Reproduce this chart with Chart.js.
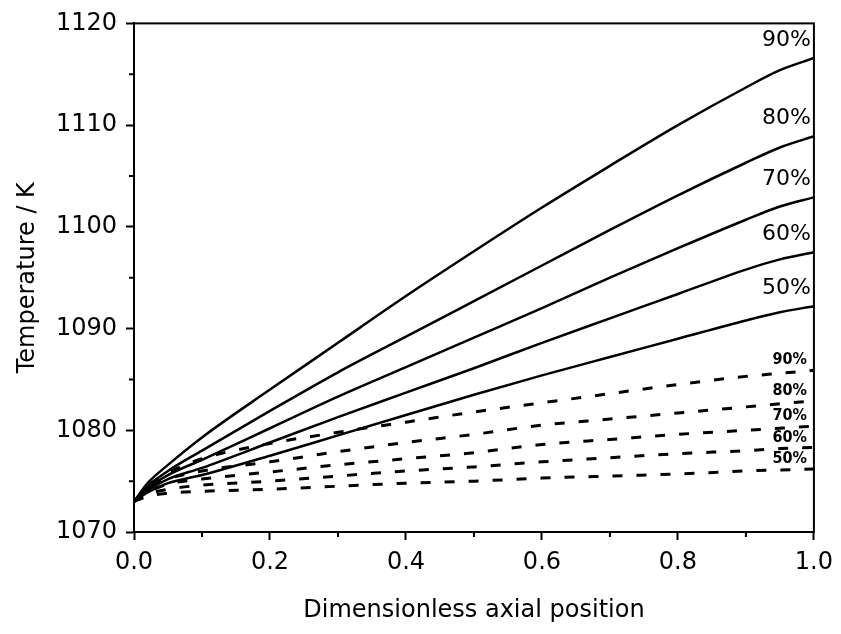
<!DOCTYPE html>
<html>
<head>
<meta charset="utf-8">
<script src="https://cdn.jsdelivr.net/npm/chart.js@4"></script>
<style>
  html, body { margin: 0; padding: 0; background: #fff; }
  #wrap { width: 841px; height: 634px; }
</style>
</head>
<body>
<div id="wrap"><canvas id="tempProfile"></canvas></div>
<script>
// Axial positions (dimensionless)
var positions = [0, 0.02, 0.05, 0.1, 0.2, 0.3, 0.4, 0.5, 0.6, 0.7, 0.8, 0.9, 0.95, 1.0]
var curveNames = ['90%', '80%', '70%', '60%', '50%']

// Solid curves (K)
var solid90 = [1073.0, 1074.8, 1076.6, 1079.3, 1084.0, 1088.6, 1093.2, 1097.6, 1101.9, 1106.0, 1110.0, 1113.7, 1115.4, 1116.6]
var solid80 = [1073.0, 1074.5, 1076.0, 1078.0, 1081.9, 1085.7, 1089.2, 1092.7, 1096.2, 1099.7, 1103.1, 1106.3, 1107.8, 1108.9]
var solid70 = [1073.0, 1074.3, 1075.6, 1077.1, 1080.2, 1083.3, 1086.2, 1089.1, 1092.0, 1095.0, 1097.9, 1100.7, 1102.0, 1102.9]
var solid60 = [1073.0, 1074.1, 1075.2, 1076.3, 1078.8, 1081.3, 1083.7, 1086.1, 1088.6, 1091.0, 1093.4, 1095.8, 1096.8, 1097.5]
var solid50 = [1073.0, 1073.9, 1074.8, 1075.6, 1077.5, 1079.5, 1081.5, 1083.5, 1085.4, 1087.2, 1089.0, 1090.8, 1091.6, 1092.2]

// Dashed curves (K)
var dashed90 = [1073.0, 1074.5, 1075.8, 1077.2, 1078.7, 1079.8, 1080.8, 1081.8, 1082.7, 1083.6, 1084.5, 1085.3, 1085.6, 1085.9]
var dashed80 = [1073.0, 1074.2, 1075.2, 1076.0, 1076.9, 1077.9, 1078.8, 1079.6, 1080.5, 1081.1, 1081.7, 1082.3, 1082.6, 1082.9]
var dashed70 = [1073.0, 1073.9, 1074.7, 1075.2, 1075.9, 1076.6, 1077.2, 1077.8, 1078.6, 1079.1, 1079.6, 1080.0, 1080.2, 1080.4]
var dashed60 = [1073.0, 1073.7, 1074.2, 1074.6, 1075.0, 1075.5, 1076.0, 1076.4, 1076.9, 1077.3, 1077.7, 1078.0, 1078.2, 1078.3]
var dashed50 = [1073.0, 1073.5, 1073.8, 1074.0, 1074.2, 1074.5, 1074.8, 1075.0, 1075.3, 1075.5, 1075.7, 1076.0, 1076.1, 1076.2]

// Axis ticks
var xTicks = [0, 0.2, 0.4, 0.6, 0.8, 1.0]
var yTicks = [1070, 1080, 1090, 1100, 1110, 1120]

var solidSets = [solid90, solid80, solid70, solid60, solid50]
var dashedSets = [dashed90, dashed80, dashed70, dashed60, dashed50]

function toPoints(values) {
    var pts = []
    for (let i = 0; i < positions.length; i++) {
        pts.push({x: positions[i], y: values[i]})
    }
    return pts
}

var datasets = []
for (let i = 0; i < curveNames.length; i++) {
    datasets.push({
        label: curveNames[i],
        data: toPoints(solidSets[i]),
        borderColor: '#000',
        borderWidth: 2.5,
        pointRadius: 0,
        cubicInterpolationMode: 'monotone',
        kind: 'solid'
    })
}
for (let i = 0; i < curveNames.length; i++) {
    datasets.push({
        label: curveNames[i],
        data: toPoints(dashedSets[i]),
        borderColor: '#000',
        borderWidth: 3,
        borderDash: [10, 14],
        pointRadius: 0,
        cubicInterpolationMode: 'monotone',
        kind: 'dashed'
    })
}

// frame, minor ticks and curve labels
var decorations = {
    id: 'decorations',
    afterDraw: function(chart) {
        var ctx = chart.ctx
        var area = chart.chartArea
        var xs = chart.scales.x
        var ys = chart.scales.y
        ctx.save()
        ctx.strokeStyle = '#000'
        ctx.lineWidth = 2
        ctx.strokeRect(area.left, area.top, area.right - area.left, area.bottom - area.top)

        ctx.beginPath()
        for (let i = 0; i < xTicks.length - 1; i++) {
            var px = xs.getPixelForValue((xTicks[i] + xTicks[i + 1]) / 2)
            ctx.moveTo(px, area.bottom)
            ctx.lineTo(px, area.bottom + 5)
        }
        for (let i = 0; i < yTicks.length - 1; i++) {
            var py = ys.getPixelForValue((yTicks[i] + yTicks[i + 1]) / 2)
            ctx.moveTo(area.left, py)
            ctx.lineTo(area.left - 5, py)
        }
        ctx.stroke()

        ctx.fillStyle = '#000'
        ctx.textAlign = 'right'
        ctx.textBaseline = 'middle'
        chart.data.datasets.forEach(function(ds) {
            var last = ds.data[ds.data.length - 1].y
            var y = ys.getPixelForValue(last)
            if (ds.kind === 'solid') {
                ctx.font = '22px "DejaVu Sans"'
                ctx.fillText(ds.label, area.right - 3, y - 18)
            } else {
                ctx.font = 'bold 16px "DejaVu Sans Condensed", "DejaVu Sans"'
                ctx.fillText(ds.label, area.right - 7, y - 10)
            }
        })
        ctx.restore()
    }
}

var axisFont = {family: 'DejaVu Sans', size: 24}

var ctx = document.getElementById('tempProfile').getContext('2d')
var myChart = new Chart(ctx, {
    type: 'line',
    data: {datasets: datasets},
    options: {
        responsive: true,
        maintainAspectRatio: false,
        animation: false,
        layout: {padding: {top: 22, right: 21, left: 0, bottom: 0}},
        plugins: {
            legend: {display: false},
            tooltip: {enabled: false}
        },
        scales: {
            x: {
                type: 'linear',
                min: 0,
                max: 1,
                afterBuildTicks: function(scale) {
                    scale.ticks = xTicks.map(function(v) { return {value: v} })
                },
                afterFit: function(scale) { scale.height = 102 },
                ticks: {
                    color: '#000',
                    font: axisFont,
                    padding: 8,
                    callback: function(v) { return v.toFixed(1) }
                },
                grid: {drawOnChartArea: false, tickLength: 8, tickWidth: 2, tickColor: '#000'},
                border: {color: '#000', width: 2},
                title: {
                    display: true,
                    text: 'Dimensionless axial position',
                    color: '#000',
                    font: axisFont,
                    padding: {top: 0, bottom: 9}
                }
            },
            y: {
                type: 'linear',
                min: 1070,
                max: 1120,
                afterBuildTicks: function(scale) {
                    scale.ticks = yTicks.map(function(v) { return {value: v} })
                },
                afterFit: function(scale) { scale.width = 134 },
                ticks: {
                    color: '#000',
                    font: axisFont,
                    padding: 9,
                    callback: function(v) { return String(v) }
                },
                grid: {drawOnChartArea: false, tickLength: 8, tickWidth: 2, tickColor: '#000'},
                border: {color: '#000', width: 2},
                title: {
                    display: true,
                    text: 'Temperature / K',
                    color: '#000',
                    font: axisFont,
                    padding: {top: 13, bottom: 0}
                }
            }
        }
    },
    plugins: [decorations]
})
</script>
</body>
</html>
